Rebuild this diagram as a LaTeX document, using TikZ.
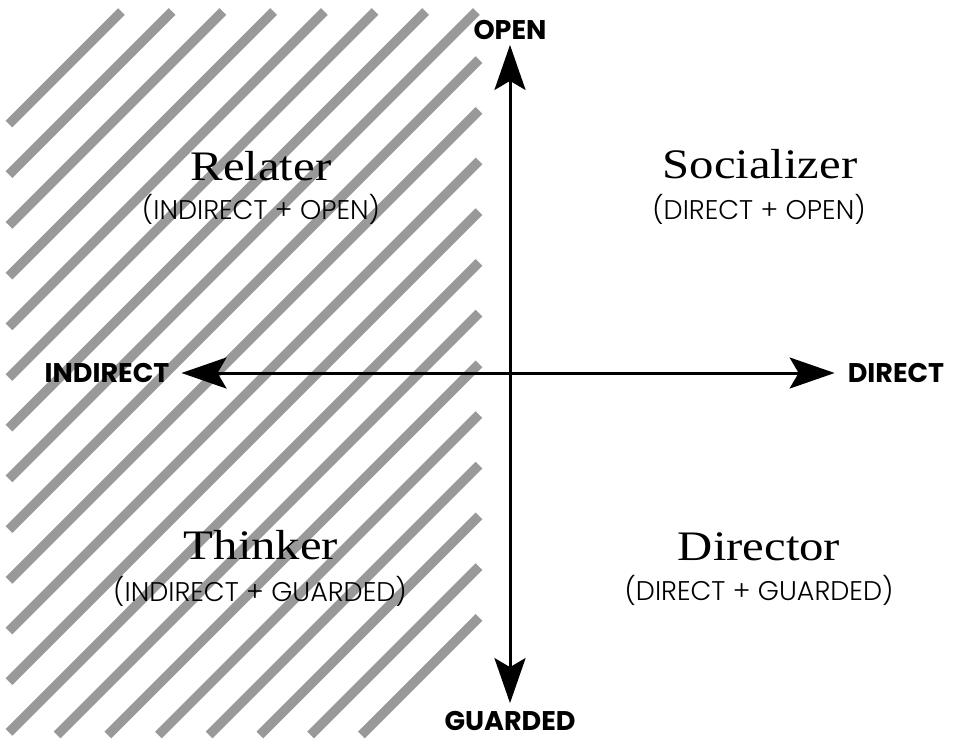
\documentclass[tikz,border=0pt]{standalone}
\usepackage{fontspec}
\setmainfont{Liberation Serif}
\newfontfamily\typefont{Liberation Serif}[FakeStretch=1.16]
\newfontfamily\mixfont{Poppins Light}
\newfontfamily\polefont{Poppins}
\usetikzlibrary{arrows.meta}
\definecolor{stripegray}{gray}{0.6}

\tikzset{
  hatch/.style={line width=9.5pt, draw=stripegray},
  axis/.style={line width=3pt, {Stealth[length=45pt,width=31pt,inset=9pt]}-{Stealth[length=45pt,width=31pt,inset=9pt]}},
  type/.style={font=\typefont\fontsize{42}{42}\selectfont, anchor=base, inner sep=0pt},
  mix/.style={font=\mixfont\fontsize{27}{27}\selectfont, anchor=base, inner sep=0pt},
  pole/.style={font=\polefont\bfseries\fontsize{27}{27}\selectfont, inner sep=0pt},
}

\begin{document}
\begin{tikzpicture}[x=1pt, y=-1pt]
        \useasboundingbox (0,0) rectangle (956,742);

        % striped half
        \foreach \k in {0,...,19} {
            \pgfmathsetmacro\c{133+50.7*\k}
            \pgfmathsetmacro\xs{max(9,\c-735)}
            \pgfmathsetmacro\xe{min(479,\c-11.5)}
            \draw[hatch] (\xs,\c-\xs) -- (\xe,\c-\xe);
        }

        \node[type] at (261,180)    (relater)  {Relater};
        \node[mix]  at (261,219)    (relater-mix)  {(INDIRECT + OPEN)};
        \node[type] at (760,178)    (socializer)  {Socializer};
        \node[mix]  at (759,219)    (socializer-mix)  {(DIRECT + OPEN)};
        \node[type] at (261,559)    (thinker)  {Thinker};
        \node[mix]  at (260,601)    (thinker-mix)  {(INDIRECT + GUARDED)};
        \node[type] at (759,560)    (director)  {Director};
        \node[mix]  at (759,600)    (director-mix)  {(DIRECT + GUARDED)};

        \node[pole] at (510,30)     (open)  {OPEN};
        \node[pole] at (510,721)    (guarded)  {GUARDED};
        \node[pole] at (107,373)    (indirect)  {INDIRECT};
        \node[pole] at (896,373)    (direct)  {DIRECT};

        \draw[axis, shorten <=5pt, shorten >=8pt] (open) -- (guarded);
        \draw[axis, shorten <=12pt, shorten >=13pt] (indirect) -- (direct);
    \end{tikzpicture}
\end{document}
